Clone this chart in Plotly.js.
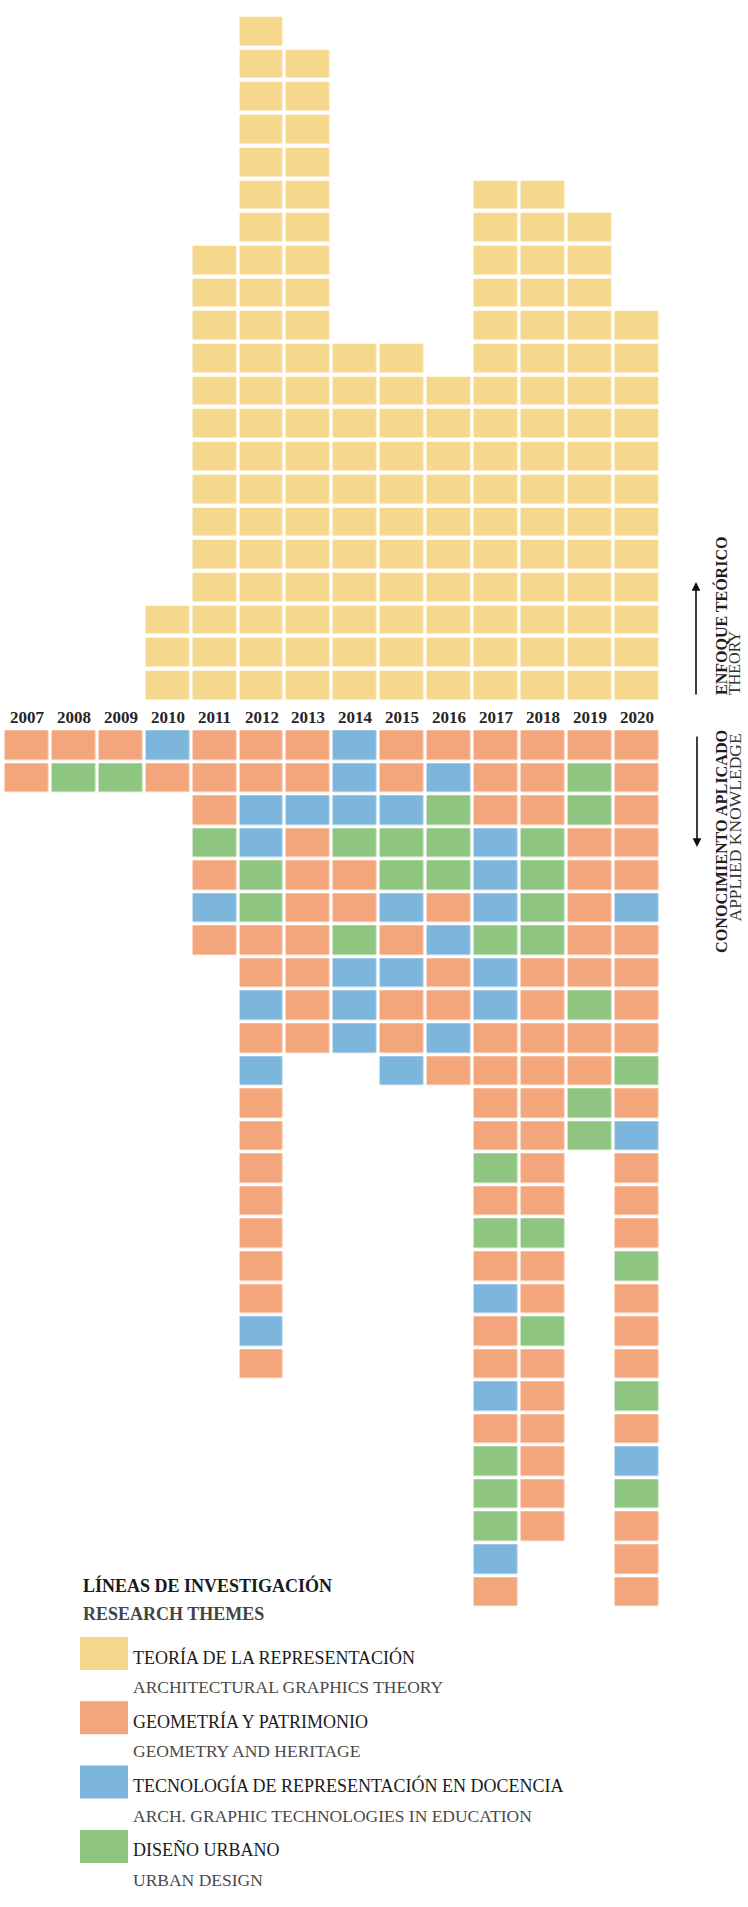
<!DOCTYPE html>
<html>
<head>
<meta charset="utf-8">
<script src="https://cdn.plot.ly/plotly-3.0.1.min.js"></script>
<style>
html,body{margin:0;padding:0;background:#ffffff;}
#chart{width:748px;height:1907px;}
</style>
</head>
<body>
<div id="chart"></div>
<script>
// ---------- DATA ----------
const years = ['2007','2008','2009','2010','2011','2012','2013','2014','2015','2016','2017','2018','2019','2020'];

// Number of "Teoría de la representación" (theory) items per year
const theoryCounts = [0,0,0,3,14,21,20,11,11,10,16,16,15,12];

// Applied-knowledge items per year, top to bottom
// P = Geometría y patrimonio, T = Tecnología de representación en docencia, U = Diseño urbano
const a2007 = ['P','P'];
const a2008 = ['P','U'];
const a2009 = ['P','U'];
const a2010 = ['T','P'];
const a2011 = ['P','P','P','U','P','T','P'];
const a2012 = ['P','P','T','T','U','U','P','P','T','P','T','P','P','P','P','P','P','P','T','P'];
const a2013 = ['P','P','T','P','P','P','P','P','P','P'];
const a2014 = ['T','T','T','U','P','P','U','T','T','T'];
const a2015 = ['P','P','T','U','U','T','P','T','P','P','T'];
const a2016 = ['P','T','U','U','U','P','T','P','P','T','P'];
const a2017 = ['P','P','P','T','T','T','U','T','T','P','P','P','P','U','P','U','P','T','P','P','T','P','U','U','U','T','P'];
const a2018 = ['P','P','P','U','U','U','U','P','P','P','P','P','P','P','P','U','P','P','U','P','P','P','P','P','P'];
const a2019 = ['P','U','U','P','P','P','P','P','U','P','P','U','U'];
const a2020 = ['P','P','P','P','P','T','P','P','P','P','U','P','T','P','P','P','U','P','P','P','U','P','T','U','P','P','P'];
const appliedCols = [a2007,a2008,a2009,a2010,a2011,a2012,a2013,a2014,a2015,a2016,a2017,a2018,a2019,a2020];

// Themes (R = Teoría de la representación)
const themeKeys = ['R','P','T','U'];
const themeColors = ['#F5D88C','#F3A67B','#7DB6DC','#8EC681'];
const themeLabelsEs = ['TEORÍA DE LA REPRESENTACIÓN','GEOMETRÍA Y PATRIMONIO','TECNOLOGÍA DE REPRESENTACIÓN EN DOCENCIA','DISEÑO URBANO'];
const themeLabelsEn = ['ARCHITECTURAL GRAPHICS THEORY','GEOMETRY AND HERITAGE','ARCH. GRAPHIC TECHNOLOGIES IN EDUCATION','URBAN DESIGN'];

// ---------- BUILD MATRICES ----------
const maxTheory = Math.max.apply(null, theoryCounts);
const yTheory = [], zTheory = [];
for (let k = 1; k <= maxTheory; k++) {
  yTheory.push(k);
  zTheory.push(theoryCounts.map(c => (k <= c ? 0 : null)));
}
const maxApplied = Math.max.apply(null, appliedCols.map(c => c.length));
const yApplied = [], zApplied = [];
for (let j = 1; j <= maxApplied; j++) {
  yApplied.push(-j);
  zApplied.push(appliedCols.map(col => (j <= col.length ? themeKeys.indexOf(col[j-1]) : null)));
}

const colorscale = [
  [0, themeColors[0]], [0.25, themeColors[0]],
  [0.25, themeColors[1]], [0.5, themeColors[1]],
  [0.5, themeColors[2]], [0.75, themeColors[2]],
  [0.75, themeColors[3]], [1, themeColors[3]]
];

const traces = [
  {type:'heatmap', x:years, y:yTheory, z:zTheory, xaxis:'x', yaxis:'y',
   colorscale:colorscale, zmin:0, zmax:3, showscale:false, xgap:3.3, ygap:4.3, hoverinfo:'skip'},
  {type:'heatmap', x:years, y:yApplied, z:zApplied, xaxis:'x', yaxis:'y2',
   colorscale:colorscale, zmin:0, zmax:3, showscale:false, xgap:3.3, ygap:3.5, hoverinfo:'skip'}
];

// ---------- LAYOUT ----------
const W = 748, H = 1907;
const px = x => x / W;
const py = y => 1 - y / H;
const SERIF = 'Liberation Serif, Times New Roman, serif';

const annotations = [];
// year labels (x = category index on the category axis)
years.forEach((y, i) => {
  annotations.push({x:i, xref:'x', y:py(717.5), yref:'paper', text:'<b>'+y+'</b>', showarrow:false,
    xanchor:'center', yanchor:'middle', font:{family:SERIF, size:17, color:'#262626'}});
});

// right side labels
annotations.push({x:px(721), y:py(697), xref:'paper', yref:'paper', text:'<b>ENFOQUE TEÓRICO</b>', textangle:-90,
  showarrow:false, xanchor:'center', yanchor:'bottom', font:{family:SERIF, size:16, color:'#1e1e1e'}});
annotations.push({x:px(734), y:py(697), xref:'paper', yref:'paper', text:'THEORY', textangle:-90,
  showarrow:false, xanchor:'center', yanchor:'bottom', font:{family:SERIF, size:16, color:'#333333'}});
annotations.push({x:px(721.5), y:py(728), xref:'paper', yref:'paper', text:'<b>CONOCIMIENTO APLICADO</b>', textangle:-90,
  showarrow:false, xanchor:'center', yanchor:'top', font:{family:SERIF, size:16.2, color:'#1e1e1e'}});
annotations.push({x:px(734.5), y:py(732), xref:'paper', yref:'paper', text:'APPLIED KNOWLEDGE', textangle:-90,
  showarrow:false, xanchor:'center', yanchor:'top', font:{family:SERIF, size:17.5, color:'#333333'}});

// arrows
annotations.push({x:px(696), y:py(582), xref:'paper', yref:'paper', ax:0, ay:114, axref:'pixel', ayref:'pixel',
  text:'', showarrow:true, arrowhead:2, arrowsize:1.1, arrowwidth:1.6, arrowcolor:'#111111', standoff:0});
annotations.push({x:px(697), y:py(847), xref:'paper', yref:'paper', ax:0, ay:-112, axref:'pixel', ayref:'pixel',
  text:'', showarrow:true, arrowhead:2, arrowsize:1.1, arrowwidth:1.6, arrowcolor:'#111111', standoff:0});

// legend
annotations.push({x:px(81), y:py(1585), xref:'paper', yref:'paper', text:'<b>LÍNEAS DE INVESTIGACIÓN</b>',
  showarrow:false, xanchor:'left', yanchor:'middle', font:{family:SERIF, size:18, color:'#1a1a1a'}});
annotations.push({x:px(81), y:py(1614), xref:'paper', yref:'paper', text:'<b>RESEARCH THEMES</b>',
  showarrow:false, xanchor:'left', yanchor:'middle', font:{family:SERIF, size:18, color:'#444444'}});

const shapes = [];
const legTop0 = 1637, legStep = 64.3;
themeColors.forEach((c, i) => {
  const top = legTop0 + i * legStep;
  shapes.push({type:'rect', xref:'paper', yref:'paper', x0:px(80), x1:px(128), y0:py(top), y1:py(top+33),
    fillcolor:c, line:{width:0}});
  annotations.push({x:px(131), y:py(top+20), xref:'paper', yref:'paper', text:themeLabelsEs[i],
    showarrow:false, xanchor:'left', yanchor:'middle', font:{family:SERIF, size:18, color:'#1a1a1a'}});
  annotations.push({x:px(131), y:py(top+50), xref:'paper', yref:'paper', text:themeLabelsEn[i],
    showarrow:false, xanchor:'left', yanchor:'middle', font:{family:SERIF, size:17.5, color:'#4a4a4a'}});
});

const layout = {
  width:W, height:H,
  margin:{l:0, r:0, t:0, b:0, pad:0},
  paper_bgcolor:'#ffffff', plot_bgcolor:'#ffffff',
  showlegend:false,
  xaxis:{type:'category', range:[-0.5757, 15.373], visible:false, fixedrange:true},
  yaxis:{range:[-36.367, 21.951], visible:false, fixedrange:true},
  yaxis2:{range:[-36.672, 21.897], overlaying:'y', visible:false, fixedrange:true},
  annotations:annotations,
  shapes:shapes
};

Plotly.newPlot('chart', traces, layout, {staticPlot:true, displayModeBar:false});
</script>
</body>
</html>
